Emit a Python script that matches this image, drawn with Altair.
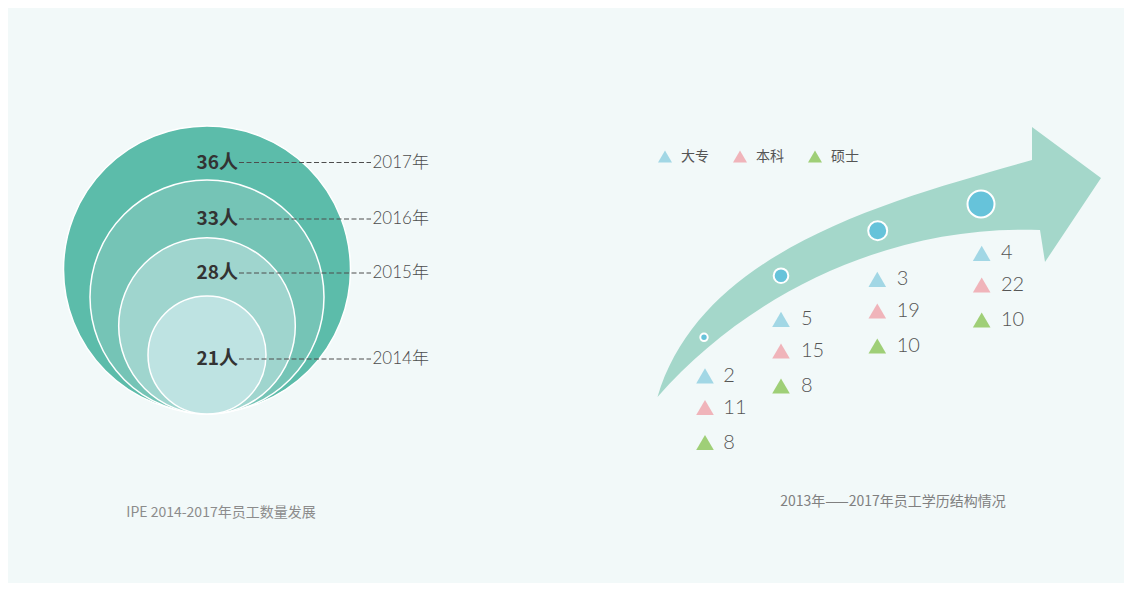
import altair as alt
import pandas as pd

# ---------------- data ----------------
# left: head-count development
years = [2014, 2015, 2016, 2017]
headcount = [21, 28, 33, 36]

# right: education structure
edu_years = [2014, 2015, 2016, 2017]
categories = ["大专", "本科", "硕士"]
dazhuan = [2, 5, 3, 4]
benke = [11, 15, 19, 22]
shuoshi = [8, 8, 10, 10]

left_title = "IPE 2014-2017年员工数量发展"
right_title = "2013年——2017年员工学历结构情况"

# ---------------- styles / layout ----------------
BG = "#f2f9f9"
CJK = "Noto Sans CJK SC"
THIN = "Lato, 'Noto Sans CJK SC'"
circle_colors = ["#bee3e2", "#9fd5ce", "#75c4b6", "#5cbcaa"]
tri_colors = ["#a2d7e5", "#f0b4ba", "#9fcf77"]
ARROW_COLOR = "#a4d7ca"
DOT_COLOR = "#66c3da"

CIRCLE_Y = [347, 318, 289, 261.5]
CIRCLE_SIZE = [13924, 31188, 54756, 82369]
LABEL_Y = [351, 265, 211, 154.5]

DOT_X = [696, 773, 869.7, 973]
DOT_Y = [329.3, 267.7, 222.7, 196]
DOT_SIZE = [55, 213, 361, 729]
TRI_X = [697, 773, 869.3, 973.7]
NUM_X = [715.3, 793, 888.7, 993]
ROW0_Y = [367.8, 311.3, 271.3, 245.3]
ROW_OFF = [0, 31.7, 66.7]

ARROW_PATH = ("M-220.5,139C-175.9,-12,21.7,-59.5,154,-98L154,-131L223,-80"
              "L167,4L162,-28C16.5,-33.8,-126.75,32.3,-220.5,139Z")

# ---------------- tables ----------------
df_left = pd.DataFrame({"year": years, "count": headcount})
df_left["人数"] = [f"{c}人" for c in headcount]
df_left["年份"] = [f"{y}年" for y in years]

df_edu = pd.DataFrame({
    "year": edu_years * 3,
    "cat": [c for c in categories for _ in edu_years],
    "value": dazhuan + benke + shuoshi,
})
totals = [a + b + c for a, b, c in zip(dazhuan, benke, shuoshi)]
df_tot = pd.DataFrame({"year": edu_years, "total": totals})


def pscale(domain, rng):
    return alt.Scale(domain=domain, range=rng, nice=False, zero=False)


# ---------------- left panel ----------------
circles = alt.Chart(df_left).mark_circle(stroke="white", strokeWidth=1.5, opacity=1).encode(
    x=alt.value(199),
    y=alt.Y("year:Q", scale=pscale(years, CIRCLE_Y), axis=None),
    size=alt.Size("count:Q", scale=pscale(headcount, CIRCLE_SIZE), legend=None),
    color=alt.Color("year:O", scale=alt.Scale(domain=years, range=circle_colors), legend=None),
    order=alt.Order("count:Q", sort="descending"),
)

lab_y = alt.Y("year:Q", scale=pscale(years, LABEL_Y), axis=None)

dashes = alt.Chart(df_left).mark_rule(color="#4d4d4d", strokeWidth=1, strokeDash=[5, 2.5]).encode(
    x=alt.value(231), x2=alt.value(363), y=lab_y
)
count_text = alt.Chart(df_left).mark_text(
    align="right", baseline="middle", font=CJK, fontSize=19, fontWeight="bold", color="#333333"
).encode(x=alt.value(230), y=lab_y, text="人数:N")
year_text = alt.Chart(df_left).mark_text(
    align="left", baseline="middle", font=THIN, fontSize=17, fontWeight=300, color="#4d4d4d"
).encode(x=alt.value(364.5), y=lab_y, text="年份:N")

# ---------------- right panel ----------------
arrow = alt.Chart(pd.DataFrame({"a": [1]})).mark_point(
    shape=ARROW_PATH, filled=True, size=4, opacity=1, color=ARROW_COLOR, strokeWidth=0
).encode(x=alt.value(870), y=alt.value(250))

dots = alt.Chart(df_tot).mark_circle(color=DOT_COLOR, stroke="white", strokeWidth=2, opacity=1).encode(
    x=alt.X("year:Q", scale=pscale(edu_years, DOT_X), axis=None),
    y=alt.Y("year:Q", scale=pscale(edu_years, DOT_Y), axis=None),
    size=alt.Size("total:Q", scale=pscale(sorted(totals), DOT_SIZE), legend=None),
)

legend = alt.Legend(
    orient="none", legendX=650, legendY=141.5, direction="horizontal", title=None,
    symbolType="triangle-up", symbolSize=196, symbolStrokeWidth=0, symbolOpacity=1,
    labelFont=CJK, labelFontSize=14, labelFontWeight="normal", labelColor="#555555",
    labelOffset=9, columnPadding=24, padding=0,
)

tri_layers = []
num_layers = []
for r, cat in enumerate(categories):
    ys = [b + ROW_OFF[r] for b in ROW0_Y]
    yenc = alt.Y("year:Q", scale=pscale(edu_years, ys), axis=None)
    base = alt.Chart(df_edu).transform_filter(alt.datum.cat == cat)
    tri_layers.append(
        base.mark_point(shape="triangle-up", filled=True, size=310, opacity=1, strokeWidth=0).encode(
            x=alt.X("year:Q", scale=pscale(edu_years, TRI_X), axis=None),
            y=yenc,
            color=alt.Color("cat:N", scale=alt.Scale(domain=categories, range=tri_colors),
                            legend=legend if r == 0 else None),
        )
    )
    num_layers.append(
        base.mark_text(align="left", baseline="middle", font=THIN, fontSize=20, fontWeight=300,
                       color="#555555").encode(
            x=alt.X("year:Q", scale=pscale(edu_years, NUM_X), axis=None),
            y=yenc,
            text="value:Q",
        )
    )

# ---------------- titles ----------------
t_left = alt.Chart(pd.DataFrame({"t": [left_title]})).mark_text(
    align="center", baseline="middle", font=CJK, fontSize=14, color="#8c8c8c"
).encode(x=alt.value(213), y=alt.value(505), text="t:N")
t_right = alt.Chart(pd.DataFrame({"t": [right_title]})).mark_text(
    align="center", baseline="middle", font=CJK, fontSize=14, color="#808080"
).encode(x=alt.value(885), y=alt.value(494), text="t:N")

chart = alt.layer(
    circles, dashes, count_text, year_text,
    arrow, dots, *tri_layers, *num_layers,
    t_left, t_right,
).resolve_scale(
    x="independent", y="independent", size="independent", color="independent"
).properties(
    width=1116, height=575, autosize="none", padding=0, background=BG
).configure_view(stroke=None)

chart.save("out.html", embed_options={"renderer": "svg", "actions": False})
